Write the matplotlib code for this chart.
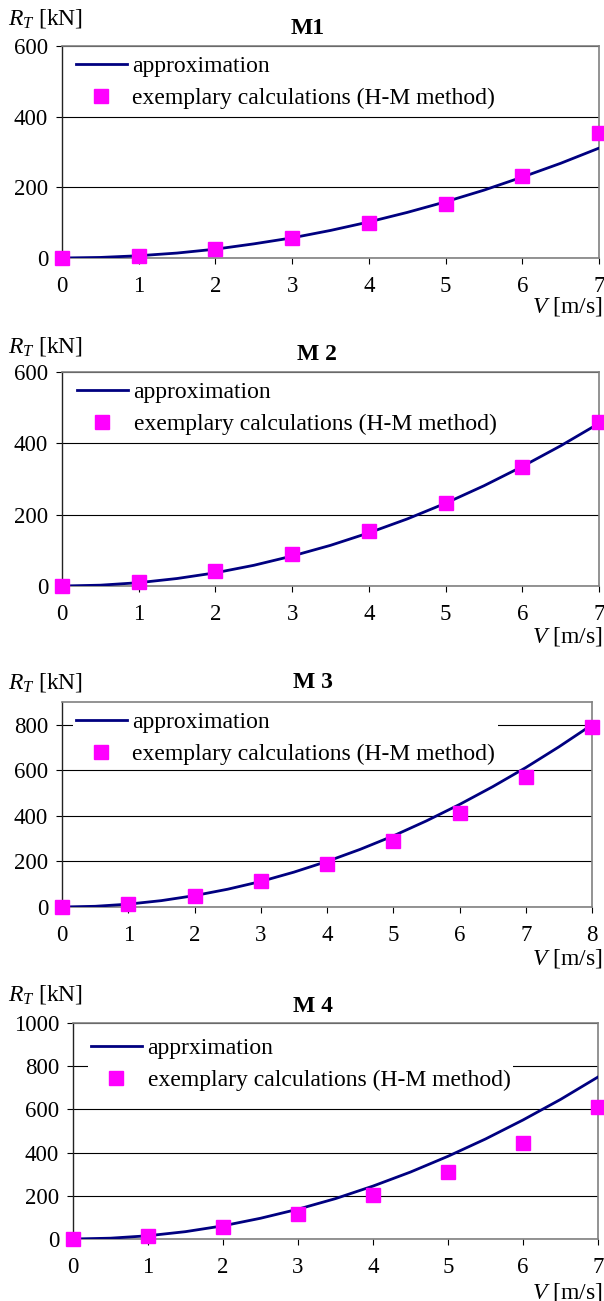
import matplotlib
matplotlib.use("Agg")
import matplotlib.pyplot as plt
from matplotlib.ticker import MultipleLocator

plt.rcParams["font.family"] = ["Liberation Serif", "DejaVu Serif"]
plt.rcParams["mathtext.fontset"] = "custom"
plt.rcParams["mathtext.rm"] = "Liberation Serif"
plt.rcParams["mathtext.it"] = "Liberation Serif:italic"

# speeds of the H-M calculations
speed_7 = [0, 1, 2, 3, 4, 5, 6, 7]
speed_8 = [0, 1, 2, 3, 4, 5, 6, 7, 8]

curve_v7 = [0, 0.5, 1, 1.5, 2, 2.5, 3, 3.5, 4, 4.5, 5, 5.5, 6, 6.5, 7]
curve_v8 = [0, 0.5, 1, 1.5, 2, 2.5, 3, 3.5, 4, 4.5, 5, 5.5, 6, 6.5, 7, 7.5, 8]

m1_calc = [0, 6, 26, 57, 99, 154, 231, 355]
m1_curve = [0, 1.6, 6.4, 14, 25, 40, 57, 78, 102, 129, 159, 192, 229, 268, 311]

m2_calc = [0, 11, 43, 91, 155, 234, 333, 459]
m2_curve = [0, 2.3, 9.3, 21, 37, 58, 84, 114, 149, 188, 232, 281, 335, 393, 456]

m3_calc = [0, 13, 50, 112, 190, 288, 412, 569, 791]
m3_curve = [0, 3.1, 12.5, 28, 50, 78, 112, 153, 200, 253, 312, 378, 450, 528,
            612, 703, 800]

m4_calc = [0, 15, 57, 118, 203, 312, 445, 609]
m4_curve = [0, 3.8, 15, 34, 61, 96, 138, 187, 245, 310, 383, 463, 551, 646, 750]

W, H = 604, 1301
fig = plt.figure(figsize=(W / 100, H / 100), dpi=100)

FS = 17
TFS = 16.5
NAVY = "#000080"
MAGENTA = "#ff00ff"


def fx(px):
    return px / W


def fy(py):
    return 1 - py / H


panels = [
    # title, label, calc x, calc, curve x, curve, xmax, ymax,
    # box (left, right, top, bottom), legend row1 offset, handle offset,
    # (R_T y, title y, V y), title x
    ("M1", "approximation", speed_7, m1_calc, curve_v7, m1_curve, 7, 600,
     (62, 599, 46, 258), 20, 14, (18, 29, 306), 308),
    ("M 2", "approximation", speed_7, m2_calc, curve_v7, m2_curve, 7, 600,
     (62, 599, 372, 586), 20, 15, (347, 355, 637), 317),
    ("M 3", "approximation", speed_8, m3_calc, curve_v8, m3_curve, 8, 900,
     (62, 592, 702, 907), 20, 14, (682, 682, 959), 313),
    ("M 4", "apprximation", speed_7, m4_calc, curve_v7, m4_curve, 7, 1000,
     (73, 598, 1023, 1239), 25, 18, (995, 1007, 1292), 313),
]

for (title, lab, xs, calc, cx, cy, xmax, ymax, box, leg_dy, leg_dx,
     texts_y, title_x) in panels:
    left, right, top, bottom = box
    ax = fig.add_axes([fx(left), fy(bottom), fx(right) - fx(left),
                       (bottom - top) / H])
    ax.plot(cx, cy, color=NAVY, lw=2, label=lab, zorder=3)
    ax.plot(xs, calc, ls="none", marker="s", ms=9.5, color=MAGENTA,
            label="exemplary calculations (H-M method)", clip_on=False,
            zorder=4)
    ax.set_xlim(0, xmax)
    ax.set_ylim(0, ymax)
    ax.xaxis.set_major_locator(MultipleLocator(1))
    ax.set_yticks(list(range(0, ymax + 1, 200))[:ymax // 200 + 1])
    ax.grid(axis="y", color="black", lw=0.8)
    ax.set_axisbelow(True)
    for s in ["top", "right", "bottom"]:
        ax.spines[s].set_color("#808080")
        ax.spines[s].set_linewidth(1.2)
    ax.spines["left"].set_color("#222222")
    ax.spines["left"].set_linewidth(1.0)
    ax.tick_params(direction="out", length=4, width=0.8, labelsize=TFS,
                   color="black")
    ax.tick_params(axis="y", pad=6)
    ax.tick_params(axis="x", pad=9)

    # legend placed in pixels from the axes top-left corner
    leg = ax.legend(loc="upper left", fontsize=FS, frameon=True,
                    fancybox=False, edgecolor="none", facecolor="white",
                    framealpha=1, handlelength=2.15, handletextpad=0.25,
                    labelspacing=0.43, borderpad=0.12, borderaxespad=0,
                    bbox_to_anchor=(fx(left + leg_dx - 3),
                                    fy(top + leg_dy - 13)),
                    bbox_transform=fig.transFigure)
    leg.set_zorder(2.5)

    ry, ty, vy = texts_y
    fig.text(fx(8), fy(ry), "$R_T$ [kN]", fontsize=FS, ha="left", va="center")
    fig.text(fx(title_x), fy(ty), title, fontsize=FS, fontweight="bold",
             ha="center", va="center")
    fig.text(fx(602), fy(vy), "$V$ [m/s]", fontsize=FS, ha="right",
             va="center")

fig.savefig("out.png", dpi=100)
